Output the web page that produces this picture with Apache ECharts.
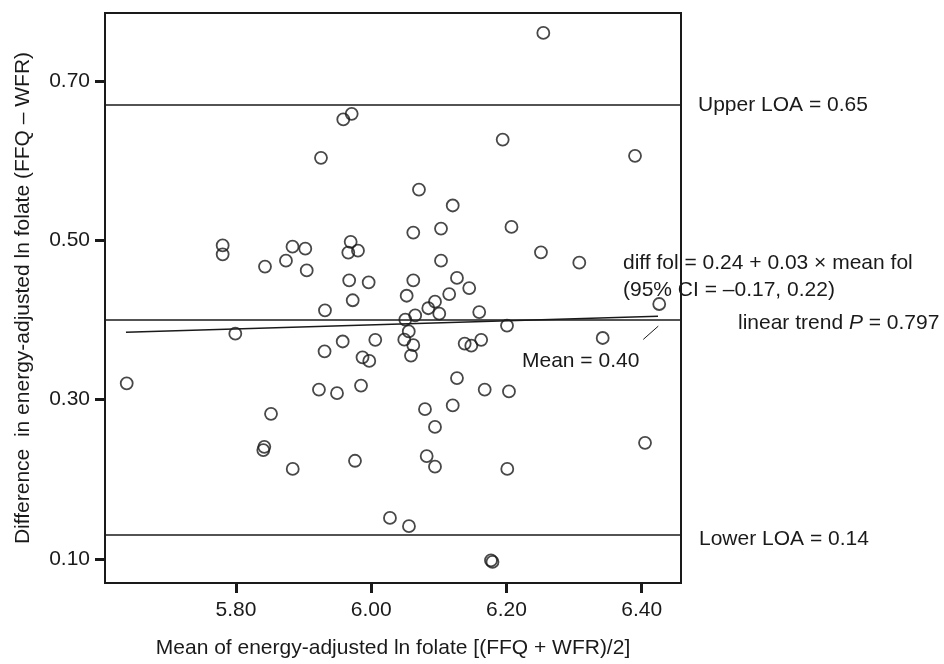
<!DOCTYPE html>
<html>
<head>
<meta charset="utf-8">
<script src="https://cdn.jsdelivr.net/npm/echarts@6/dist/echarts.min.js"></script>
<style>html,body{margin:0;padding:0;background:#fff}#c{width:944px;height:664px}</style>
</head>
<body>
<div id="c"></div>
<script>
// ---- data ----
const xTicks = [5.8, 6.0, 6.2, 6.4];
const yTicks = [0.1, 0.3, 0.5, 0.7];
const meanFolate = [
  6.2545, 5.9587, 5.9711, 6.1944, 6.3901, 5.9257, 6.0706, 6.1205, 6.0622, 6.1032,
  6.2074, 5.7803, 5.7803, 5.8429, 5.8739, 5.8836, 5.9025, 5.9046, 5.9696, 5.9661,
  5.9804, 6.2510, 6.3077, 6.1032, 5.9674, 5.9962, 6.0622, 6.1268, 6.1449, 6.0524,
  6.1153, 5.9726, 5.9316, 6.4259, 6.0943, 6.0844, 6.1006, 6.1597, 6.0650, 6.0504,
  6.2008, 6.0555, 5.9310, 5.9578, 6.0060, 6.0489, 6.0622, 6.0588, 6.1382, 6.1480,
  6.1626, 6.3423, 5.9871, 5.9971, 6.1268, 5.9227, 5.9494, 5.9849, 6.1678, 6.2037,
  6.0795, 6.1205, 6.0943, 6.4049, 5.9760, 6.0820, 6.0943, 6.2012, 6.0277, 6.0558,
  6.1771, 6.1793, 5.6384, 5.7990, 5.8518, 5.8419, 5.8404, 5.8839
];
const diffFolate = [
  0.7609, 0.6521, 0.6592, 0.6268, 0.6064, 0.6039, 0.5640, 0.5440, 0.5100, 0.5150,
  0.5171, 0.4938, 0.4826, 0.4672, 0.4747, 0.4922, 0.4897, 0.4624, 0.4984, 0.4848,
  0.4872, 0.4851, 0.4722, 0.4747, 0.4499, 0.4474, 0.4499, 0.4530, 0.4402, 0.4306,
  0.4327, 0.4249, 0.4123, 0.4202, 0.4231, 0.4149, 0.4080, 0.4101, 0.4058, 0.4007,
  0.3931, 0.3858, 0.3607, 0.3731, 0.3752, 0.3754, 0.3685, 0.3554, 0.3705, 0.3679,
  0.3752, 0.3775, 0.3532, 0.3487, 0.3271, 0.3127, 0.3081, 0.3177, 0.3127, 0.3104,
  0.2881, 0.2927, 0.2657, 0.2457, 0.2232, 0.2291, 0.2158, 0.2129, 0.1514, 0.1410,
  0.0980, 0.0961, 0.3205, 0.3829, 0.2822, 0.2407, 0.2366, 0.2129
];
const meanDiff = 0.3953;
const upperLOA = 0.6679;
const lowerLOA = 0.1269;
const trendX = [5.6373, 6.4241];
const trendY = [0.3847, 0.4049];
const leaderX = [6.4023, 6.4245];
const leaderY = [0.3757, 0.3924];
const xRange = [5.6063, 6.4581];
const yRange = [0.0696, 0.7859];

// ---- chart ----
const FONT = "'Liberation Sans', Arial, Helvetica, sans-serif";
const INK = '#1a1a1a';
const chart = echarts.init(document.getElementById('c'), null, {renderer: 'canvas'});
const points = meanFolate.map((x, i) => [x, diffFolate[i]]);
const txt = (text, x, y, extra) => ({
  type: 'text', x: x, y: y, silent: true,
  style: Object.assign({text: text, fill: INK, font: '21px ' + FONT,
    textAlign: 'left', textVerticalAlign: 'middle', align: 'left', verticalAlign: 'middle'}, extra || {})
});

chart.setOption({
  animation: false,
  backgroundColor: '#fff',
  textStyle: {fontFamily: FONT},
  grid: {left: 105, top: 13, right: 263, bottom: 77, show: true, borderColor: INK, borderWidth: 2, backgroundColor: 'transparent'},
  xAxis: {
    type: 'value', min: xRange[0], max: xRange[1],
    name: 'Mean of energy-adjusted ln folate [(FFQ + WFR)/2]',
    nameLocation: 'middle', nameGap: 55,
    nameTextStyle: {fontSize: 21, color: INK, fontFamily: FONT},
    axisLine: {show: true, onZero: false, lineStyle: {color: INK, width: 2}},
    axisTick: {show: true, length: 10, lineStyle: {color: INK, width: 3}, customValues: xTicks},
    axisLabel: {fontSize: 21, color: INK, margin: 17, fontFamily: FONT, customValues: xTicks,
      formatter: v => v.toFixed(2)},
    splitLine: {show: false}
  },
  yAxis: {
    type: 'value', min: yRange[0], max: yRange[1],
    name: 'Difference  in energy-adjusted ln folate (FFQ \u2013 WFR)',
    nameLocation: 'middle', nameGap: 71, nameRotate: 90,
    nameTextStyle: {fontSize: 21, color: INK, fontFamily: FONT},
    axisLine: {show: true, onZero: false, lineStyle: {color: INK, width: 2}},
    axisTick: {show: true, length: 10, lineStyle: {color: INK, width: 3}, customValues: yTicks},
    axisLabel: {fontSize: 21, color: INK, margin: 15, fontFamily: FONT, customValues: yTicks,
      formatter: v => v.toFixed(2)},
    splitLine: {show: false}
  },
  series: [
    {
      type: 'scatter', data: points, symbol: 'circle', symbolSize: 12,
      itemStyle: {color: 'rgba(0,0,0,0)', borderColor: INK, borderWidth: 1.8},
      z: 5,
      markLine: {
        silent: true, symbol: 'none', label: {show: false},
        lineStyle: {color: INK, width: 1.7, type: 'solid'},
        data: [{yAxis: upperLOA}, {yAxis: meanDiff}, {yAxis: lowerLOA}]
      }
    },
    {
      type: 'line', data: trendX.map((x, i) => [x, trendY[i]]), symbol: 'none',
      lineStyle: {color: INK, width: 1.4}, z: 4
    },
    {
      type: 'line', data: leaderX.map((x, i) => [x, leaderY[i]]), symbol: 'none',
      lineStyle: {color: INK, width: 1}, z: 4
    }
  ],
  graphic: [
    txt('Upper LOA = 0.65', 698, 105),
    txt('diff fol = 0.24 + 0.03 \u00d7 mean fol', 623, 263),
    txt('(95% CI = \u20130.17, 0.22)', 623, 290),
    {
      type: 'text', x: 738, y: 323, silent: true,
      style: {
        text: '{a|linear trend }{b|P}{a| = 0.797}', fill: INK,
        textVerticalAlign: 'middle', verticalAlign: 'middle', align: 'left', textAlign: 'left',
        rich: {
          a: {fontSize: 21, fontFamily: FONT, fill: INK, color: INK},
          b: {fontSize: 21, fontFamily: FONT, fontStyle: 'italic', fill: INK, color: INK}
        }
      }
    },
    txt('Mean = 0.40', 522, 361),
    txt('Lower LOA = 0.14', 699, 539)
  ]
});
</script>
</body>
</html>
